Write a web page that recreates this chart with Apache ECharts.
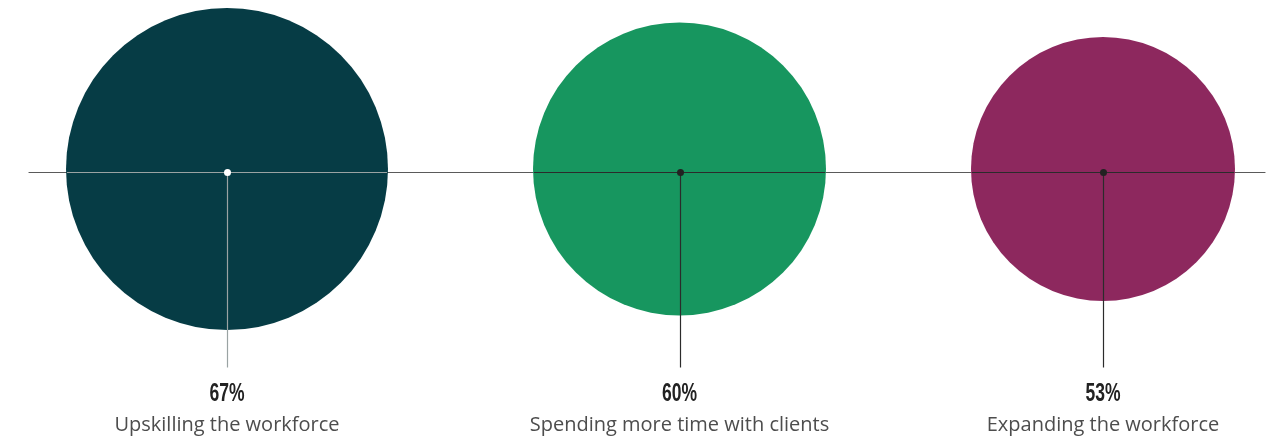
<!DOCTYPE html>
<html>
<head>
<meta charset="utf-8">
<style>
  html, body { margin: 0; padding: 0; background: #ffffff; }
  #chart { width: 1271px; height: 439px; }
</style>
<script src="https://cdn.jsdelivr.net/npm/echarts@6/dist/echarts.min.js"></script>
</head>
<body>
<div id="chart"></div>
<script>
// Survey answers, one bubble per priority
const categories = ['Upskilling the workforce', 'Spending more time with clients', 'Expanding the workforce'];
const values = [67, 60, 53];
const valueLabels = ['67%', '60%', '53%'];

// Per-bubble styling
const fills = ['#063c45', '#17965f', '#8d285e'];
const guideColors = ['#9aa3a3', '#2b2b2b', '#2b2b2b'];
const dotColors = ['#ffffff', '#222222', '#222222'];

// Layout in x-axis units (the axis spans 1 unit per pixel of the plot)
const X_SPAN = 1236;
const START = 37;   // space before the first bubble
const GAP = 145;    // space between neighbouring bubbles
const RADIUS_RANGE = [132, 161];

const lin = (echarts.number && echarts.number.linearMap) ||
  function (v, d, r) { return r[0] + (v - d[0]) / (d[1] - d[0]) * (r[1] - r[0]); };
const valueDomain = [Math.min.apply(null, values), Math.max.apply(null, values)];
const radiusOf = v => lin(v, valueDomain, RADIUS_RANGE);

// Pack the bubbles left to right with equal gaps between their edges
const centers = [];
(function () {
  let x = START;
  values.forEach(v => {
    const r = radiusOf(v);
    x += r;
    centers.push(x);
    x += r + GAP;
  });
})();

const seriesData = values.map((v, i) => [centers[i], 0, radiusOf(v), v, i]);

function renderBubble(params, api) {
  const i = api.value(4);
  const c = api.coord([api.value(0), api.value(1)]);
  const r = api.size([api.value(2), 0])[0];
  const cx = Math.round(c[0]) + 0.5;
  const cy = Math.round(c[1]) + 0.5;
  return {
    type: 'group',
    children: [
      { type: 'circle', shape: { cx: c[0], cy: c[1] - 3, r: r }, style: { fill: fills[i] } },
      { type: 'line', shape: { x1: c[0] - r + 1, y1: cy, x2: c[0] + r - 1, y2: cy },
        style: { stroke: guideColors[i], lineWidth: 1.2 } },
      { type: 'line', shape: { x1: cx, y1: cy, x2: cx, y2: cy + 195 },
        style: { stroke: guideColors[i], lineWidth: 1.2 } },
      { type: 'circle', shape: { cx: cx, cy: cy, r: 3.5 }, style: { fill: dotColors[i] } },
      // condensed bold figure
      { type: 'text', x: c[0], y: cy + 222, scaleX: 0.7,
        style: { text: valueLabels[i], fill: '#222222', align: 'center', verticalAlign: 'middle',
                 font: 'bold 25px "Liberation Sans", Arimo, sans-serif' } },
      { type: 'text', x: c[0], y: cy + 253,
        style: { text: categories[i], fill: '#4d4d4d', align: 'center', verticalAlign: 'middle',
                 font: '20px "Open Sans", "Noto Sans", sans-serif' } }
    ]
  };
}

const chart = echarts.init(document.getElementById('chart'), null, { renderer: 'canvas' });
chart.setOption({
  animation: false,
  backgroundColor: '#ffffff',
  grid: { left: 29, top: 0, width: X_SPAN, height: 344 },
  xAxis: {
    type: 'value', min: 0, max: X_SPAN,
    axisLine: { show: true, onZero: true, lineStyle: { color: '#5a5a5a', width: 1.2 } },
    axisTick: { show: false }, axisLabel: { show: false }, splitLine: { show: false }
  },
  yAxis: {
    type: 'value', min: -1, max: 1, show: false
  },
  series: [{
    type: 'custom',
    renderItem: renderBubble,
    data: seriesData,
    clip: false
  }]
});
</script>
</body>
</html>
